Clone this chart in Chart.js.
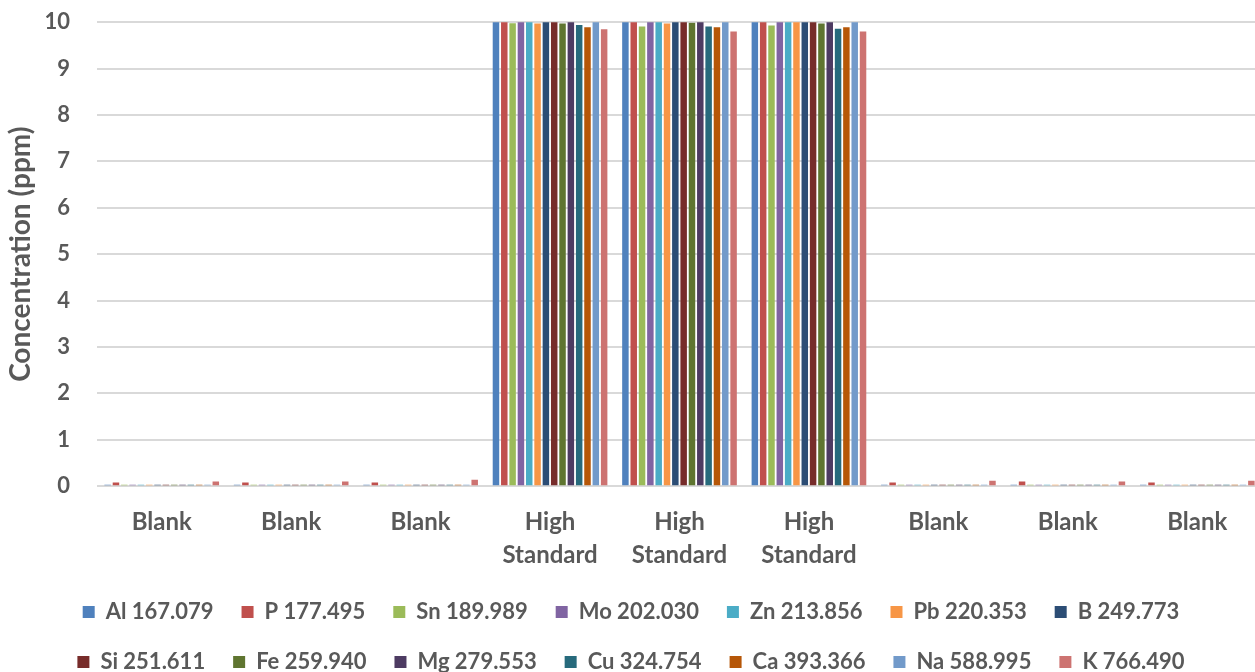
<!DOCTYPE html>
<html><head><meta charset="utf-8">
<script src="https://cdn.jsdelivr.net/npm/chart.js@4.4.1/dist/chart.umd.min.js"></script>
<style>
html,body{margin:0;padding:0;background:#fff;overflow:hidden;width:1255px;height:672px;}
#wrap{width:1262px;height:701px;position:absolute;left:0;top:-18px;}
</style></head>
<body><div id="wrap"><canvas id="c"></canvas></div>
<script>
const categories = ['Blank','Blank','Blank',['High','Standard'],['High','Standard'],['High','Standard'],'Blank','Blank','Blank'];
const seriesNames = ['Al 167.079','P 177.495','Sn 189.989','Mo 202.030','Zn 213.856','Pb 220.353','B 249.773','Si 251.611','Fe 259.940','Mg 279.553','Cu 324.754','Ca 393.366','Na 588.995','K 766.490'];
const seriesColors = ['#4F81BD','#C0504D','#9BBB59','#8064A2','#4BACC6','#F79646','#2C4D75','#772C2A','#5F7530','#4D3B62','#276A7C','#B65708','#729ACA','#CD7371'];
const Al = [0.03,0.03,0.03,10.05,10.05,10.05,0.03,0.03,0.03];
const P  = [0.08,0.08,0.08,10.05,10.05,10.05,0.08,0.10,0.08];
const Sn = [0.03,0.03,0.03,9.98,9.91,9.93,0.03,0.03,0.03];
const Mo = [0.03,0.03,0.03,10.05,10.05,10.05,0.03,0.03,0.03];
const Zn = [0.03,0.03,0.03,10.05,10.05,10.05,0.03,0.03,0.03];
const Pb = [0.03,0.03,0.03,9.97,9.97,10.05,0.03,0.03,0.03];
const B  = [0.03,0.03,0.03,10.05,10.05,10.05,0.03,0.03,0.03];
const Si = [0.03,0.03,0.03,10.05,10.05,10.05,0.03,0.03,0.03];
const Fe = [0.03,0.03,0.03,9.97,9.99,9.97,0.03,0.03,0.03];
const Mg = [0.03,0.03,0.03,10.05,10.05,10.05,0.03,0.03,0.03];
const Cu = [0.03,0.03,0.03,9.94,9.91,9.86,0.03,0.03,0.03];
const Ca = [0.03,0.03,0.03,9.89,9.89,9.89,0.03,0.03,0.03];
const Na = [0.03,0.03,0.03,10.05,10.05,10.05,0.03,0.03,0.03];
const K  = [0.10,0.10,0.14,9.85,9.80,9.80,0.12,0.10,0.12];
const seriesValues = [Al,P,Sn,Mo,Zn,Pb,B,Si,Fe,Mg,Cu,Ca,Na,K];
const yTicks = [0,1,2,3,4,5,6,7,8,9,10];

const FONT = 'Lato, "Open Sans", sans-serif';
const GRAY = '#595959';

new Chart(document.getElementById('c'), {
  type: 'bar',
  data: {
    labels: categories,
    datasets: seriesNames.map((n,i)=>({
      label: n,
      data: seriesValues[i],
      backgroundColor: seriesColors[i],
      borderWidth: 0,
      barPercentage: 0.78,
      categoryPercentage: 0.9
    }))
  },
  options: {
    responsive: true,
    maintainAspectRatio: false,
    animation: false,
    layout: { padding: 0 },
    plugins: {
      tooltip: { enabled: false },
      legend: {
        position: 'bottom',
        labels: {
          boxWidth: 12, boxHeight: 12,
          padding: 28,
          color: GRAY,
          font: { family: FONT, size: 22, weight: 'bold' }
        }
      }
    },
    scales: {
      x: {
        afterFit: ax => { ax.height -= 18; },
        grid: { display: false, drawTicks: false },
        border: { display: false },
        ticks: { color: GRAY, padding: 20, maxRotation: 0, autoSkip: false,
                 font: { family: FONT, size: 24, weight: 'bold', lineHeight: 1.35 } }
      },
      y: {
        min: 0, max: 10,
        afterBuildTicks: ax => { ax.ticks = yTicks.map(v=>({value:v})); },
        afterFit: ax => { ax.width = 97; },
        grid: { color: '#D9D9D9', lineWidth: 2, drawTicks: false },
        border: { display: false },
        ticks: { color: GRAY, padding: 27, font: { family: FONT, size: 22, weight: 'bold' } },
        title: { display: true, text: 'Concentration (ppm)', color: GRAY, padding: { top: 4, bottom: 0 },
                 font: { family: FONT, size: 28, weight: 'bold' } }
      }
    }
  }
});
</script></body></html>
